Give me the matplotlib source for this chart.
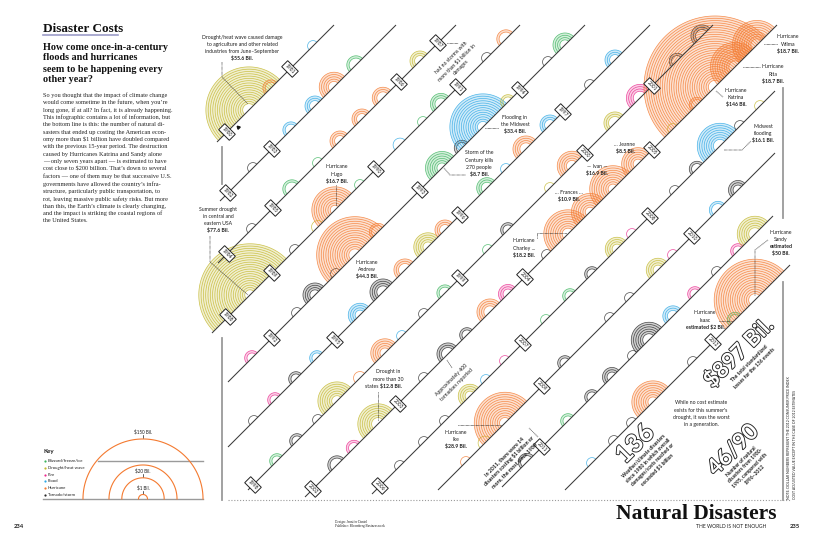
import numpy as np
import matplotlib
matplotlib.use("Agg")
import matplotlib.pyplot as plt
from matplotlib.collections import LineCollection, PolyCollection
from matplotlib.colors import to_rgba
import matplotlib.patheffects as pe

# ---------------- data ----------------
# diagonal timeline rows (x + y = const in page pixels)
line_c  = [359, 421, 481, 545, 610, 675, 738, 802, 866, 928, 989, 1055]
line_x0 = [217, 220, 218, 212, 228, 228, 248, 305, 372, 438, 502, 565]
line_x1 = [334, 396, 456, 520, 585, 650, 713, 777, 775, 775, 773, 790]

years     = list(range(1980, 2013))
year_line = [1, 1, 2, 2, 3, 3, 3, 3, 4, 4, 4, 4, 5, 5, 5, 6, 6, 6,
             7, 7, 7, 7, 8, 8, 8, 8, 9, 9, 9, 10, 10, 11, 12]
year_x    = [227, 290, 228, 272, 227, 273, 399, 438, 228, 272, 376, 458,
             272, 420, 520, 335, 460, 563, 253, 460, 585, 652, 313, 398,
             525, 652, 380, 523, 650, 542, 692, 542, 713]

# events: row, position along row, cost (bn USD), type
# B blizzard/freeze/ice, D drought/heat wave, F fire, L flood, H hurricane, T tornado/storm
ev_line = ([1]*3 + [2]*5 + [3]*7 + [4]*10 + [5]*12 + [6]*15 + [7]*17 +
           [8]*18 + [9]*16 + [10]*10 + [11]*11 + [12]*7)
ev_x = [249, 271, 313,
        253, 291, 315, 334, 356,
        252, 292, 318, 340, 362, 383, 420,
        250, 295, 318, 335, 360, 400, 423, 441, 487, 506,
        252, 297, 315, 336, 355, 378, 442, 462, 483, 508, 548, 565,
        254, 275, 296, 317, 360, 383, 405, 428, 445, 487, 506, 526, 550, 590, 615,
        277, 297, 318, 337, 360, 385, 402, 424, 445, 488, 508, 550, 572, 615, 640, 677, 702,
        337, 354, 378, 424, 448, 467, 490, 508, 547, 568, 590, 613, 638, 673, 697, 715, 735, 757,
        400, 424, 445, 470, 486, 505, 546, 570, 592, 617, 632, 675, 697, 720, 740, 760,
        466, 485, 505, 565, 610, 630, 658, 673, 718, 738,
        527, 568, 592, 612, 633, 649, 673, 695, 717, 738, 755,
        592, 614, 632, 653, 693, 735, 755]
ev_cost = [55.6, 2.2, 1,
           1, 2.2, 3.3, 7, 2.8,
           1, 2.8, 1, 3.3, 3.3, 3.8, 3.3,
           77.6, 1, 1.4, 16.7, 1, 1.6, 1, 3.7, 1, 2.8,
           1.8, 1, 4.7, 1, 44.3, 2.5, 8.7, 2, 33.4, 1.8, 1, 4.7,
           1, 1.8, 1.8, 1.8, 4.5, 5.5, 4, 6.5, 3.3, 3.5, 1, 5.5, 3.3, 1, 3.3,
           1.8, 1.8, 1, 11.5, 1.4, 6.5, 1, 1, 2.2, 1, 1.8, 1, 7, 4, 6, 2, 4,
           2.8, 2, 12.8, 1, 4, 1.8, 5.5, 3, 1, 18.2, 10.9, 16.9, 8.5, 1, 2, 146, 18.7, 18.7,
           1, 1, 1, 4.5, 1, 1, 1, 1.8, 1.8, 4.5, 1, 1, 2, 16.1, 1, 1,
           1, 1.6, 28.9, 1.8, 1, 1, 4.5, 1, 2.5, 3,
           2.5, 1.8, 1.8, 3, 1, 10, 3.4, 1.8, 1, 1.8, 10,
           1, 1, 1, 14, 1, 2, 50]
ev_type = list("DHL" "TLLHB" "TBBHHHD" "DTDHBLBBTH" "FTTTHHBTLDTB"
               "TFTLLTHDHBLHLTL" "BTTDHHLTBBTDHDFTT" "TFDTTTHFTHHHHDHHHH"
               "TTTDLFBBTDFTTLTD" "HDHTTTDFLT" "TBTTTTLFTFD" "LTTHTBH")

type_names  = ["Blizzard/freeze/ice", "Drought/heat wave", "Fire", "Flood",
               "Hurricane", "Tornado/storm"]
type_codes  = ["B", "D", "F", "L", "H", "T"]
type_colors = ["#3cb55e", "#c3b82e", "#ea2c8f", "#2fa8e4", "#f47a30", "#2a2a2a"]

key_cost  = [150, 50, 20, 1]
key_label = ["$150 Bil.", "", "$20 Bil.", "$1 Bil."]

SANS = ["Lato", "DejaVu Sans"]
SERIF = ["Liberation Serif", "DejaVu Serif"]
INK = "#1e1e1e"

W, H = 818, 550
fig = plt.figure(figsize=(W / 100, H / 100), dpi=100)
ax = fig.add_axes([0, 0, 1, 1])
ax.set_xlim(0, W)
ax.set_ylim(H, 0)
ax.axis("off")
fig.patch.set_facecolor("white")

col_of = dict(zip(type_codes, type_colors))


def radius(cost):
    return 5.4 * cost ** 0.517


# ---------------- rings ----------------
th = np.radians(np.linspace(135, 315, 140))
segs, cols, polys, fcols = [], [], [], []
for L, x, cst, t in zip(ev_line, ev_x, ev_cost, ev_type):
    cx, cy = x, line_c[L - 1] - x
    R = radius(cst)
    radii = np.arange(R, 4.6, -2.3)
    for r in radii:
        segs.append(np.column_stack([cx + r * np.cos(th), cy + r * np.sin(th)]))
        cols.append(to_rgba(col_of[t], 0.85))
    if len(radii) > 1:
        rin = radii[-1]
        outer = np.column_stack([cx + R * np.cos(th), cy + R * np.sin(th)])
        inner = np.column_stack([cx + rin * np.cos(th[::-1]), cy + rin * np.sin(th[::-1])])
        polys.append(np.vstack([outer, inner]))
        fcols.append(to_rgba(col_of[t], 0.22))
ax.add_collection(PolyCollection(polys, facecolors=fcols, edgecolors="none", zorder=1))
ax.add_collection(LineCollection(segs, colors=cols, linewidths=0.5, zorder=2))

# ---------------- timeline rows ----------------
for c, x0, x1 in zip(line_c, line_x0, line_x1):
    ax.plot([x0, x1], [c - x0, c - x1], color="#3a3a3a", lw=0.75, zorder=3,
            solid_capstyle="butt")

for yr, L, x in zip(years, year_line, year_x):
    ax.text(x, line_c[L - 1] - x, str(yr), rotation=-45, rotation_mode="anchor",
            ha="center", va="center", fontsize=3.6, family=SANS, color=INK,
            bbox=dict(boxstyle="square,pad=0.35", fc="white", ec="#222", lw=0.7),
            zorder=5)

ax.plot(238, 127, marker=(3, 0, 45), ms=2.6, color="#111", zorder=6)

# frame rules
ax.plot([222, 222], [147, 184], color="#9a9a9a", lw=1.3)
ax.plot([222, 222], [338, 500], color="#9a9a9a", lw=1.3)
ax.plot([783, 783], [88, 218], color="#9a9a9a", lw=1.3)
ax.plot([783, 783], [282, 500], color="#9a9a9a", lw=1.3)
ax.plot([228, 790], [500, 500], color="#9a9a9a", lw=0.8, ls=(0, (1, 1.6)))


# ---------------- annotations ----------------
def annot(x, y, lines, bold_from=99, fs=3.7, dy=7.2):
    for i, s in enumerate(lines):
        ax.text(x, y + i * dy, s, ha="center", va="center", fontsize=fs,
                family=SANS, weight="bold" if i >= bold_from else "normal",
                color=INK, zorder=6)


def leader(xs, ys):
    ax.plot(xs, ys, color="#222", lw=0.6, ls=(0, (0.7, 0.8)), zorder=6)


annot(242, 37, ["Drought/heat wave caused damage", "to agriculture and other related",
                "industries from June–September", "$55.6 Bil."], 3)
leader([222, 222, 248], [62, 77, 104])
annot(337, 167, ["Hurricane", "Hugo", "$16.7 Bil."], 2)
leader([336, 336], [185, 206])
annot(218, 209, ["Summer drought", "in central and", "eastern USA", "$77.6 Bil."], 3)
leader([210, 210, 248], [236, 262, 295])
annot(367, 262, ["Hurricane", "Andrew", "$44.3 Bil."], 2)
annot(515, 117, ["Flooding in", "the Midwest", "$33.4 Bil."], 2)
leader([485, 498], [128, 128])
annot(479, 153, ["Storm of the", "Century kills", "270 people", "$8.7 Bil."], 3)
leader([444, 450, 466], [168, 175, 175])
annot(736, 90, ["Hurricane", "Katrina", "$146 Bil."], 2)
leader([716, 723], [91, 97])
annot(788, 37, ["Hurricane", "Wilma", "$18.7 Bil."], 2)
leader([764, 777], [44, 44])
annot(773, 67, ["Hurricane", "Rita", "$18.7 Bil."], 2)
leader([743, 760], [67, 67])
annot(763, 126, ["Midwest", "flooding", "$16.1 Bil."], 2)
leader([724, 742, 751], [150, 150, 141])
annot(625, 144, ["... Jeanne", "$8.5 Bil."], 1)
annot(597, 166, ["— Ivan —", "$16.9 Bil."], 1)
annot(569, 192, ["... Frances ...", "$10.9 Bil."], 1)
annot(524, 241, ["Hurricane", "Charley ...", "$18.2 Bil."], 2)
leader([537, 537, 567], [238, 233, 233])
annot(388, 372, ["Drought in", "more than 30"])
ax.text(380, 386.4, "states ", ha="right", va="center", fontsize=3.7, family=SANS, color=INK)
ax.text(380, 386.4, "$12.8 Bil.", ha="left", va="center", fontsize=3.7, family=SANS,
        weight="bold", color=INK)
leader([378, 378], [392, 420])
annot(456, 432, ["Hurricane", "Ike", "$28.9 Bil."], 2)
leader([458, 501], [425, 425])
annot(781, 232, ["Hurricane", "Sandy", "estimated", "$50 Bil."], 2)
leader([768, 755, 755], [240, 250, 296])
annot(705, 313, ["Hurricane", "Isaac", "estimated $2 Bil."], 2)
leader([719, 732], [321, 321])
annot(701, 403, ["While no cost estimate", "exists for this summer's",
                 "drought, it was the worst", "in a generation."])


def rot(x, y, s, fs=3.7, w="normal", ls=1.35):
    ax.text(x, y, s, rotation=45, rotation_mode="anchor", ha="center", va="center",
            multialignment="center", fontsize=fs, family=SANS, weight=w, color=INK,
            linespacing=ls, zorder=6)


rot(456, 62, "had no storms with\nmore than $1 billion in\ndamages")
leader([447, 458], [43, 43])
rot(454, 382, "Approximately 400\ntornadoes reported")
leader([447, 452], [360, 368])
rot(509, 461, "In 2011, there were 14\ndisasters costing $1 billion or\nmore, the most since 1980",
    fs=3.8, w="bold")
leader([538, 529], [437, 428])

outline = [pe.withStroke(linewidth=1.3, foreground="#222")]


def big(x, y, s, fs):
    ax.text(x, y, s, rotation=45, rotation_mode="anchor", ha="center", va="center",
            fontsize=fs, family=SANS, weight="bold", color="white",
            path_effects=outline, zorder=7)


big(739, 353, "$897 Bil.", 16)
rot(752, 366, "The total standardized\nlosses for the 136 events", fs=3.6, w="bold")
big(635, 444, "136", 18)
rot(651, 463, "Weather/climate disasters\nsince 1980 in which overall\n"
    "damages/costs reached or\nexceeded $1 billion", fs=3.6, w="bold")
big(733, 450, "46/90", 16)
rot(748, 468, "Number of natural\ndisasters from 1980-\n1995, compared with\n1996–2012",
    fs=3.6, w="bold")

# side note
ax.text(789, 499, "NOTE: DOLLAR NUMBERS REPRESENT THE 2012 CONSUMER PRICE INDEX",
        rotation=90, ha="center", va="bottom", fontsize=2.5, family=SANS, color=INK)
ax.text(795, 499, "COST ADJUSTED VALUE EXCEPT IN THE CASE OF 2012 ESTIMATES",
        rotation=90, ha="center", va="bottom", fontsize=2.5, family=SANS, color=INK)

# ---------------- footer ----------------
ax.text(776, 519, "Natural Disasters", ha="right", va="baseline", fontsize=15.5,
        family=SERIF, weight="bold", color="#111")
ax.text(696, 527, "THE WORLD IS NOT ENOUGH", ha="left", va="center", fontsize=3.6,
        family=SANS, color=INK)
ax.text(790, 527, "235", ha="left", va="center", fontsize=4.2, family=SANS,
        weight="bold", color=INK)
ax.text(14, 527, "234", ha="left", va="center", fontsize=4.2, family=SANS,
        weight="bold", color=INK)
ax.text(335, 521.5, "Design: Jennifer Daniel", ha="left", va="center", fontsize=2.4,
        family=SERIF, color=INK)
ax.text(335, 526, "Publisher: Bloomberg Businessweek", ha="left", va="center",
        fontsize=2.4, family=SERIF, color=INK)

# ---------------- left column ----------------
ax.text(43, 32, "Disaster Costs", ha="left", va="baseline", fontsize=9.5,
        family=SERIF, weight="bold", color="#111")
ax.plot([43, 118], [35, 35], color="#9c9cc8", lw=1.2)
for i, s in enumerate(["How come once-in-a-century", "floods and hurricanes",
                       "seem to be happening every", "other year?"]):
    ax.text(43, 47 + i * 11, s, ha="left", va="center", fontsize=7.3,
            family=SERIF, weight="bold", color="#111")

body = ["So you thought that the impact of climate change",
        "would come sometime in the future, when you’re",
        "long gone, if at all? In fact, it is already happening.",
        "This infographic contains a lot of information, but",
        "the bottom line is this: the number of natural di-",
        "sasters that ended up costing the American econ-",
        "omy more than $1 billion have doubled compared",
        "with the previous 15-year period. The destruction",
        "caused by Hurricanes Katrina and Sandy alone",
        "— only seven years apart — is estimated to have",
        "cost close to $200 billion. That’s down to several",
        "factors — one of them may be that successive U.S.",
        "governments have allowed the country’s infra-",
        "structure, particularly public transportation, to",
        "rot, leaving massive public safety risks. But more",
        "than this, the Earth’s climate is clearly changing,",
        "and the impact is striking the coastal regions of",
        "the United States."]
for i, s in enumerate(body):
    ax.text(43, 95 + i * 7.41, s, ha="left", va="center", fontsize=4.5,
            family=SERIF, color="#222")

# ---------------- key ----------------
ax.text(43, 452, "Key", ha="left", va="center", fontsize=4.4, family=SANS,
        weight="bold", color=INK)
for i, (nm, cc) in enumerate(zip(type_names, type_colors)):
    yy = 461 + i * 6.8
    ax.plot(45, yy, "o", ms=1.6, color=cc, mec="none")
    ax.text(48, yy, nm, ha="left", va="center", fontsize=3.1, family=SANS, color=INK)

ax.plot([98, 203], [461, 461], color="#9a9a9a", lw=1)
ax.plot([43, 203], [499, 499], color="#9a9a9a", lw=1)
kx, ky = 143, 499
thk = np.radians(np.linspace(180, 360, 120))
for cst, lab in zip(key_cost, key_label):
    r = 4.5 * cst ** 0.517
    ax.plot(kx + r * np.cos(thk), ky + r * np.sin(thk), color="#f47a30", lw=0.8, zorder=3)
    if lab:
        ax.plot([kx, kx], [ky - r - 4, ky - r - 0.5], color=INK, lw=0.5)
        ax.text(kx, ky - r - 7, lab, ha="center", va="center", fontsize=3.3,
                family=SANS, color=INK)

fig.savefig("out.png", dpi=100, facecolor="white")
